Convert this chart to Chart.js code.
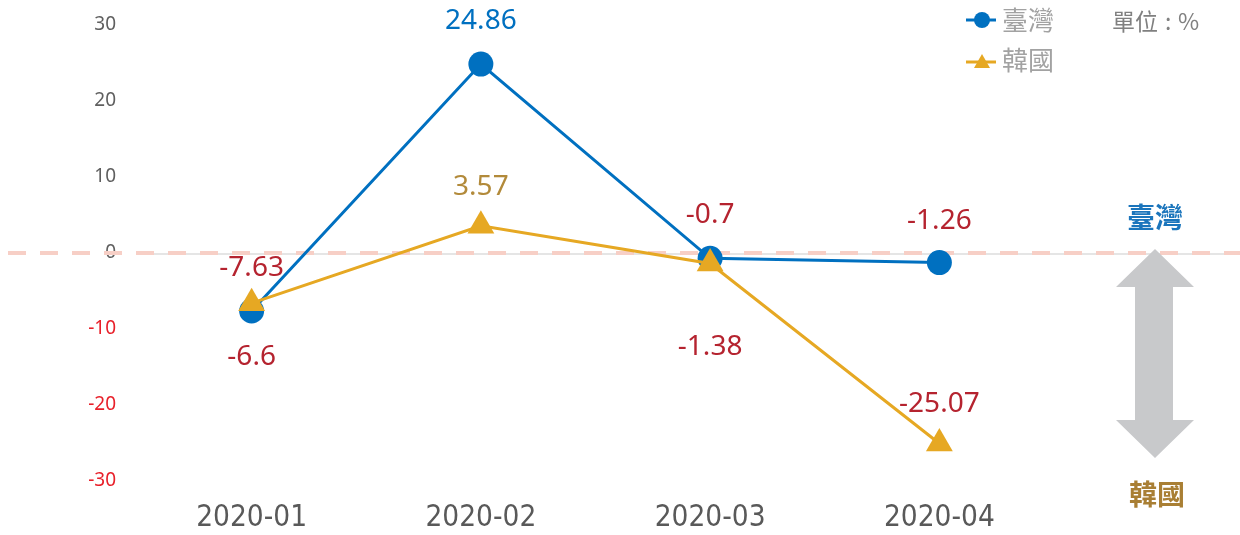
<!DOCTYPE html>
<html><head><meta charset="utf-8">
<script src="https://cdn.jsdelivr.net/npm/chart.js@4/dist/chart.umd.min.js"></script>
<style>html,body{margin:0;padding:0;background:#fff}#wrap{width:1240px;height:535px;position:relative}</style>
</head><body><div id="wrap"><canvas id="c"></canvas></div>
<script>
const categories = ['2020-01','2020-02','2020-03','2020-04'];
const taiwanValues = [-7.63, 24.86, -0.7, -1.26];
const koreaValues = [-6.6, 3.57, -1.38, -25.07];
const seriesNames = ['臺灣','韓國'];
const yTicks = [-30,-20,-10,0,10,20,30];

// label placement (style, not data): vertical offsets in px from the point
const taiwanLabelOffsets = [-43,-43,-43,-42];
const koreaLabelOffsets = [54,-39,84,-40];

const BLUE = '#0070c0', GOLD = '#e6a823', RED = '#b5232f', GOLD_TXT = '#b28a3a';

const deco = {
  id:'deco',
  beforeDatasetsDraw(chart){
    const {ctx, chartArea:a, scales:{y}} = chart;
    const y0 = y.getPixelForValue(0);
    ctx.save();
    ctx.strokeStyle = '#dcdcdc'; ctx.lineWidth = 1.5;
    ctx.beginPath(); ctx.moveTo(a.left, y0+1); ctx.lineTo(chart.width, y0+1); ctx.stroke();
    ctx.strokeStyle = '#f7cfc6'; ctx.lineWidth = 4; ctx.setLineDash([18,14]);
    ctx.beginPath(); ctx.moveTo(8, y0); ctx.lineTo(chart.width, y0); ctx.stroke();
    ctx.restore();
  },
  afterDatasetsDraw(chart){
    const {ctx, scales:{x,y}} = chart;
    ctx.save();
    ctx.font = '28px "Noto Sans"'; ctx.textAlign='center'; ctx.textBaseline='middle';
    const sets = [[taiwanValues, taiwanLabelOffsets, BLUE],[koreaValues, koreaLabelOffsets, GOLD_TXT]];
    sets.forEach(([vals, offs, pos])=>{
      vals.forEach((v,i)=>{
        ctx.fillStyle = v < 0 ? RED : pos;
        ctx.fillText(String(v), x.getPixelForValue(i), y.getPixelForValue(v)+offs[i]);
      });
    });
    ctx.restore();
  },
  afterDraw(chart){
    const {ctx, scales:{y}} = chart;
    const y0 = y.getPixelForValue(0);
    ctx.save();
    // legend
    const rows = [[seriesNames[0], BLUE, 'circle', 20],[seriesNames[1], GOLD, 'triangle', 60]];
    rows.forEach(([name,col,shape,cy])=>{
      ctx.strokeStyle = col; ctx.fillStyle = col; ctx.lineWidth = 3;
      const ly = shape==='circle' ? cy : cy+2;
      ctx.beginPath(); ctx.moveTo(966, ly); ctx.lineTo(996, ly); ctx.stroke();
      ctx.beginPath();
      if(shape==='circle'){ ctx.arc(982, cy, 8, 0, Math.PI*2); }
      else { ctx.moveTo(982, cy-6); ctx.lineTo(990, cy+8); ctx.lineTo(974, cy+8); ctx.closePath(); }
      ctx.fill();
      ctx.fillStyle = '#a2a2a2'; ctx.font = '26px "Noto Sans CJK TC"'; ctx.textAlign='left'; ctx.textBaseline='middle';
      ctx.fillText(name, 1002, cy);
    });
    ctx.fillStyle = '#808080'; ctx.font = '23px "Noto Sans CJK TC"'; ctx.textAlign='left'; ctx.textBaseline='middle';
    ctx.fillText('單位', 1112, 21);
    ctx.fillText(':', 1165, 21);
    ctx.fillText('%', 1178, 21);
    // right side arrow and labels
    ctx.font = 'bold 28px "Noto Sans CJK TC"'; ctx.textAlign='center';
    ctx.fillStyle = '#1b75bc'; ctx.fillText(seriesNames[0], 1155, 217);
    ctx.fillStyle = '#a97f34'; ctx.fillText(seriesNames[1], 1157, 494);
    ctx.fillStyle = '#c8c9cb';
    ctx.beginPath();
    ctx.moveTo(1155, y0-4); ctx.lineTo(1194, 287); ctx.lineTo(1173, 287); ctx.lineTo(1173, 420);
    ctx.lineTo(1194, 420); ctx.lineTo(1155, 458); ctx.lineTo(1116, 420); ctx.lineTo(1135, 420);
    ctx.lineTo(1135, 287); ctx.lineTo(1116, 287); ctx.closePath(); ctx.fill();
    ctx.restore();
  }
};

new Chart(document.getElementById('c'), {
  type:'line',
  data:{
    labels: categories,
    datasets:[
      {label:seriesNames[0], data:taiwanValues, borderColor:BLUE, backgroundColor:BLUE, borderWidth:3,
       pointStyle:'circle', pointRadius:12.5, pointHoverRadius:12.5, pointBorderWidth:0, order:1, tension:0},
      {label:seriesNames[1], data:koreaValues, borderColor:GOLD, backgroundColor:GOLD, borderWidth:3,
       pointStyle:'triangle', pointRadius:15.5, pointHoverRadius:15.5, pointBorderWidth:0, order:0, tension:0}
    ]
  },
  options:{
    responsive:true, maintainAspectRatio:false, animation:false,
    layout:{padding:{top:25, right:186, bottom:0, left:0}},
    plugins:{legend:{display:false}, tooltip:{enabled:false}},
    scales:{
      x:{offset:true, grid:{display:false, drawTicks:false}, border:{display:false},
         ticks:{color:'#595959', font:{family:'"DejaVu Sans Condensed"', size:29.5}, padding:20},
         afterFit(s){ s.height = 54; }},
      y:{min:-30, max:30, grid:{display:false, drawTicks:false}, border:{display:false},
         afterBuildTicks(s){ s.ticks = yTicks.map(v=>({value:v})); },
         ticks:{stepSize:10, padding:21, font:{family:'"Noto Sans"', size:19},
                color:(c)=> c.tick && c.tick.value < 0 ? '#e8202a' : '#5f5f5f'},
         afterFit(s){ s.width = 137; s.paddingTop = 0; s.paddingBottom = 0; }}
    }
  },
  plugins:[deco]
});
</script></body></html>
